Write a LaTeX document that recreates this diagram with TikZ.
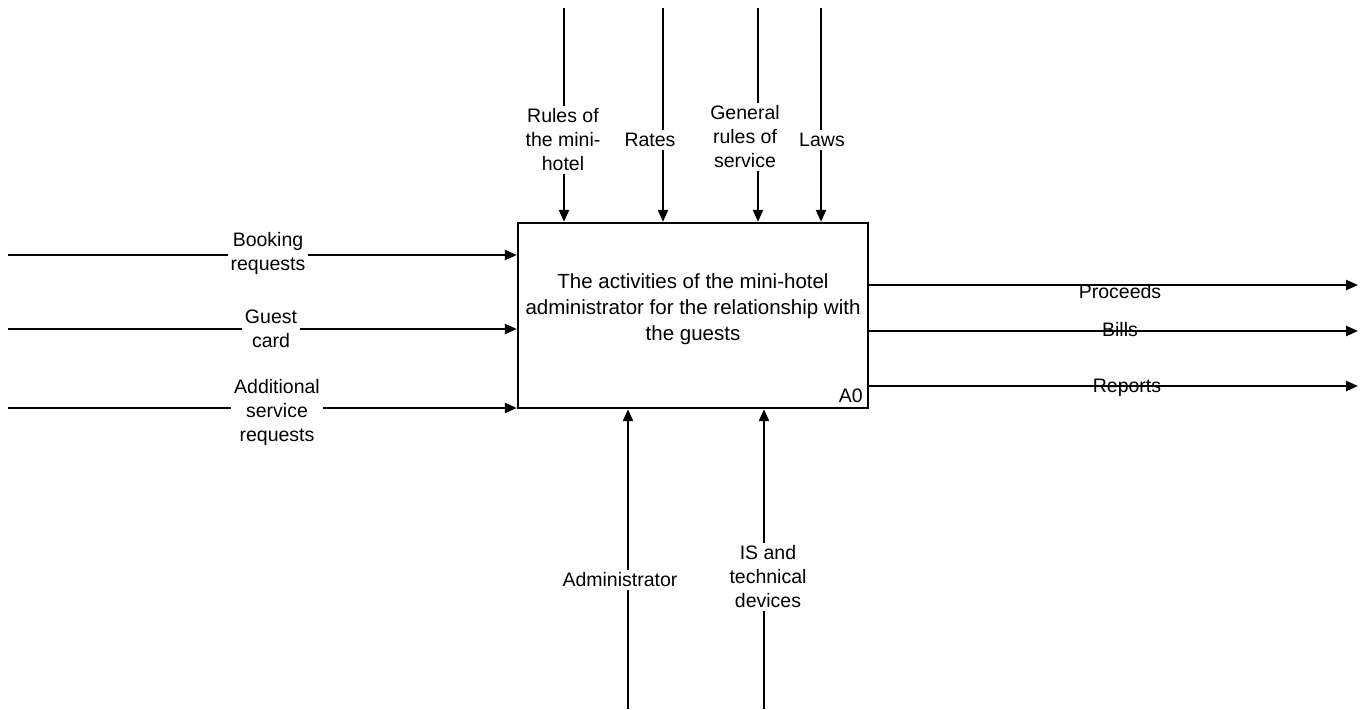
\documentclass[tikz,border=0pt]{standalone}
\usepackage{fontspec}
\setmainfont{Liberation Sans}
\usetikzlibrary{arrows.meta}
\begin{document}
\begin{tikzpicture}[x=0.5pt,y=-0.5pt,
  every node/.style={font=\fontsize{9.75}{12}\selectfont, inner sep=1.5pt},
  arr/.style={line width=1.2pt, -{Triangle[length=6pt,width=5pt]}},
  lbl/.style={fill=white, align=center},
  olbl/.style={align=center},
  funcbox/.style={draw, line width=1.2pt, minimum width=175pt, minimum height=92.5pt, inner sep=0pt}]
\useasboundingbox (0,0) rectangle (1360,709);

% activity box
\node[funcbox] (box) at (693,315.5) {};
\node[align=center, font=\fontsize{10.25}{13}\selectfont] (title) at (693,309) {The activities of the mini-hotel\\administrator for the relationship with\\the guests};
\node[anchor=south east, inner sep=3pt] (num) at (box.south east) {A0};

% controls (top)
\coordinate (c1) at (564,8);
\coordinate (c2) at (663,8);
\coordinate (c3) at (758,8);
\coordinate (c4) at (821,8);
\foreach \c in {c1,c2,c3,c4} \draw[arr] (\c) -- (\c |- box.north);
\node[lbl] (lc1) at (563,140) {Rules of\\the mini-\\hotel};
\node[lbl] (lc2) at (650,140) {Rates};
\node[lbl] (lc3) at (745,137) {General\\rules of\\service};
\node[lbl] (lc4) at (822,140) {Laws};

% inputs (left)
\coordinate (i1) at (8,255);
\coordinate (i2) at (8,329);
\coordinate (i3) at (8,408);
\foreach \i in {i1,i2,i3} \draw[arr] (\i) -- (\i -| box.west);
\node[lbl] (li1) at (268,253) {Booking\\requests};
\node[lbl] (li2) at (271,329) {Guest\\card};
\node[lbl] (li3) at (277,412) {Additional\\service\\requests};

% outputs (right)
\coordinate (o1) at (1358,285);
\coordinate (o2) at (1358,331);
\coordinate (o3) at (1358,386);
\foreach \o in {o1,o2,o3} \draw[arr] (\o -| box.east) -- (\o);
\node[olbl] (lo1) at (1120,292) {Proceeds};
\node[olbl] (lo2) at (1120,330) {Bills};
\node[olbl] (lo3) at (1127,388) {Reports};

% mechanisms (bottom)
\coordinate (m1) at (628,709);
\coordinate (m2) at (764,709);
\foreach \m in {m1,m2} \draw[arr] (\m) -- (\m |- box.south);
\node[lbl] (lm1) at (620,580) {Administrator};
\node[lbl] (lm2) at (768,577) {IS and\\technical\\devices};
\end{tikzpicture}
\end{document}
